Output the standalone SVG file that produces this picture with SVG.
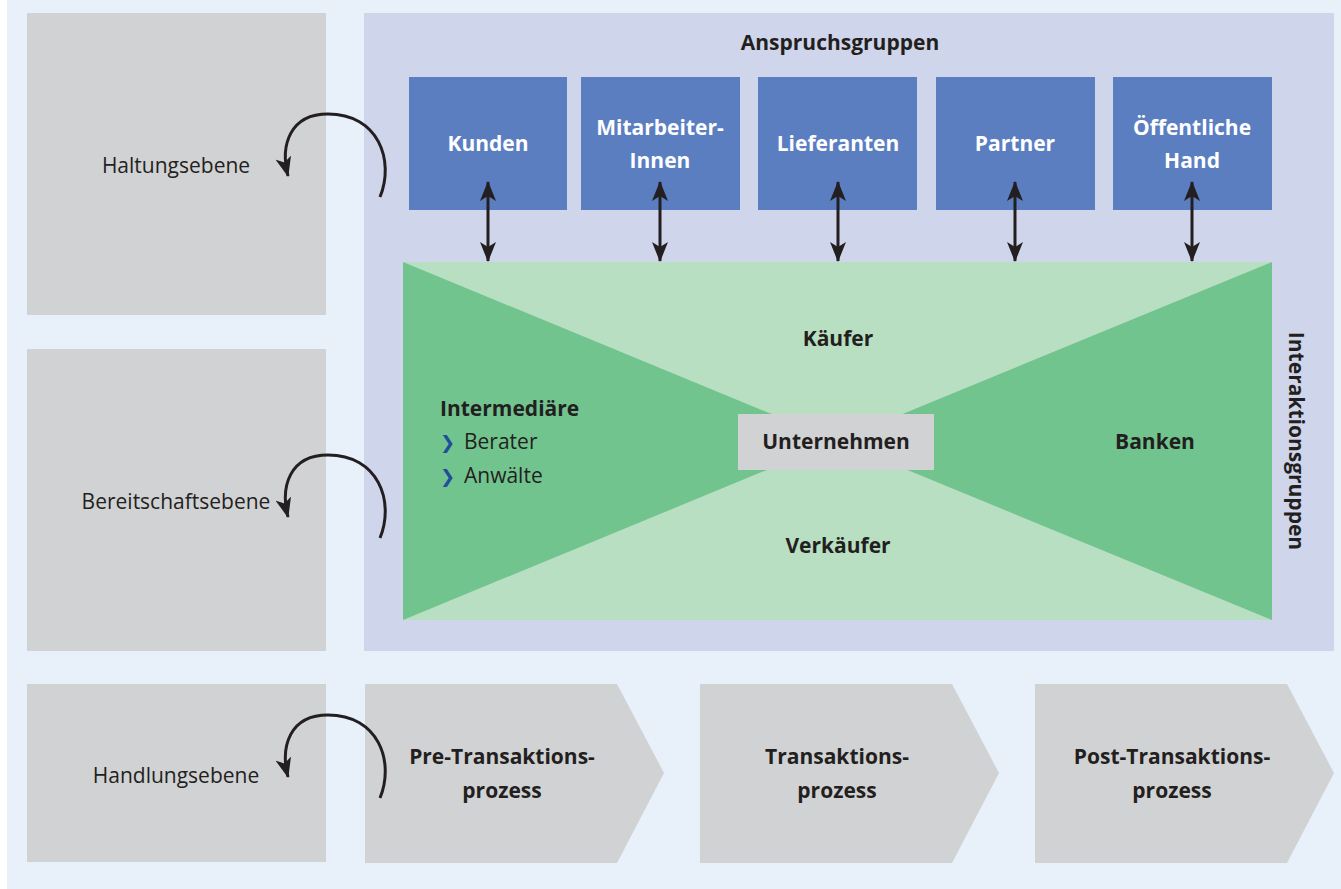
<svg xmlns="http://www.w3.org/2000/svg" width="1341" height="889" viewBox="0 0 1341 889">
<style>
.t{font-family:"Open Sans","Liberation Sans",sans-serif;fill:#231F20;font-size:21px}
.b{font-weight:bold}
.w{fill:#FFFFFF;font-weight:bold}
.c{text-anchor:middle}
.gray{fill:#D1D2D4}
.blue{fill:#5B7EC1}
.ln{fill:none;stroke:#231F20;stroke-width:3}
.bul{font-family:"DejaVu Sans",sans-serif;fill:#1F4E9A;font-size:18px;font-weight:bold}
</style>
<defs>
<marker id="ah" viewBox="0 0 20 16" refX="19" refY="8" markerWidth="20" markerHeight="16" markerUnits="userSpaceOnUse" orient="auto-start-reverse">
<path d="M0,0 L20,8 L0,16 L5,8 Z" fill="#231F20"/>
</marker>
</defs>
<rect x="0" y="0" width="1341" height="889" fill="#FFFFFF"/>
<rect x="7" y="0" width="1334" height="889" fill="#E8F0FA"/>

<g id="haltungsebene"><rect class="gray" x="27" y="13" width="299" height="302"/><text class="t c" x="176" y="173">Haltungsebene</text></g>
<g id="bereitschaftsebene"><rect class="gray" x="27" y="349" width="299" height="302"/><text class="t c" x="176" y="509">Bereitschaftsebene</text></g>
<g id="handlungsebene"><rect class="gray" x="27" y="684" width="299" height="178"/><text class="t c" x="176" y="783">Handlungsebene</text></g>

<g id="panel">
<rect x="364" y="13" width="970" height="638" fill="#CFD5EA"/>
<text class="t b c" x="840" y="50">Anspruchsgruppen</text>
<text class="t b c" transform="translate(1289,441) rotate(90)">Interaktionsgruppen</text>
</g>

<g id="kunden"><rect class="blue" x="409" y="77" width="158" height="133"/><text class="t w c" x="488" y="151">Kunden</text></g>
<g id="mitarbeiter"><rect class="blue" x="581" y="77" width="159" height="133"/><text class="t w c" x="660" y="135">Mitarbeiter-</text><text class="t w c" x="660" y="168">Innen</text></g>
<g id="lieferanten"><rect class="blue" x="758" y="77" width="159" height="133"/><text class="t w c" x="838" y="151">Lieferanten</text></g>
<g id="partner"><rect class="blue" x="936" y="77" width="159" height="133"/><text class="t w c" x="1015" y="151">Partner</text></g>
<g id="oeffentliche-hand"><rect class="blue" x="1113" y="77" width="159" height="133"/><text class="t w c" x="1192" y="135">Öffentliche</text><text class="t w c" x="1192" y="168">Hand</text></g>

<g id="interaktion">
<rect x="403" y="262" width="869" height="358" fill="#B8DFC2"/>
<polygon points="403,262 403,620 837,441" fill="#71C48E"/>
<polygon points="1272,262 1272,620 837,441" fill="#71C48E"/>
<text class="t b c" x="838" y="346">Käufer</text>
<text class="t b c" x="838" y="553">Verkäufer</text>
<text class="t b c" x="1155" y="449">Banken</text>
<text class="t b" x="440" y="416">Intermediäre</text>
<text class="bul" x="440" y="449">❯</text><text class="t" x="464" y="449">Berater</text>
<text class="bul" x="440" y="483">❯</text><text class="t" x="464" y="483">Anwälte</text>
</g>
<g id="unternehmen"><rect class="gray" x="738" y="414" width="196" height="56"/><text class="t b c" x="836" y="449">Unternehmen</text></g>

<g id="pre"><polygon class="gray" points="365,684 617,684 664,773 617,863 365,863"/><text class="t b c" x="502" y="764">Pre-Transaktions-</text><text class="t b c" x="502" y="798">prozess</text></g>
<g id="trans"><polygon class="gray" points="700,684 952,684 999,773 952,863 700,863"/><text class="t b c" x="837" y="764">Transaktions-</text><text class="t b c" x="837" y="798">prozess</text></g>
<g id="post"><polygon class="gray" points="1035,684 1287,684 1334,773 1287,863 1035,863"/><text class="t b c" x="1172" y="764">Post-Transaktions-</text><text class="t b c" x="1172" y="798">prozess</text></g>

<g id="connectors">
<line class="ln" x1="488" y1="182" x2="488" y2="261" marker-start="url(#ah)" marker-end="url(#ah)"/>
<line class="ln" x1="660" y1="182" x2="660" y2="261" marker-start="url(#ah)" marker-end="url(#ah)"/>
<line class="ln" x1="838" y1="182" x2="838" y2="261" marker-start="url(#ah)" marker-end="url(#ah)"/>
<line class="ln" x1="1015" y1="182" x2="1015" y2="261" marker-start="url(#ah)" marker-end="url(#ah)"/>
<line class="ln" x1="1192" y1="182" x2="1192" y2="261" marker-start="url(#ah)" marker-end="url(#ah)"/>
<path class="ln" d="M380,197 C395,160 378,114 328,114 C290,114 280,145 288,176" marker-end="url(#ah)"/>
<path class="ln" d="M380,538 C395,501 378,455 328,455 C290,455 280,486 288,517" marker-end="url(#ah)"/>
<path class="ln" d="M380,798 C395,761 378,715 328,715 C290,715 280,746 288,777" marker-end="url(#ah)"/>
</g>
</svg>
